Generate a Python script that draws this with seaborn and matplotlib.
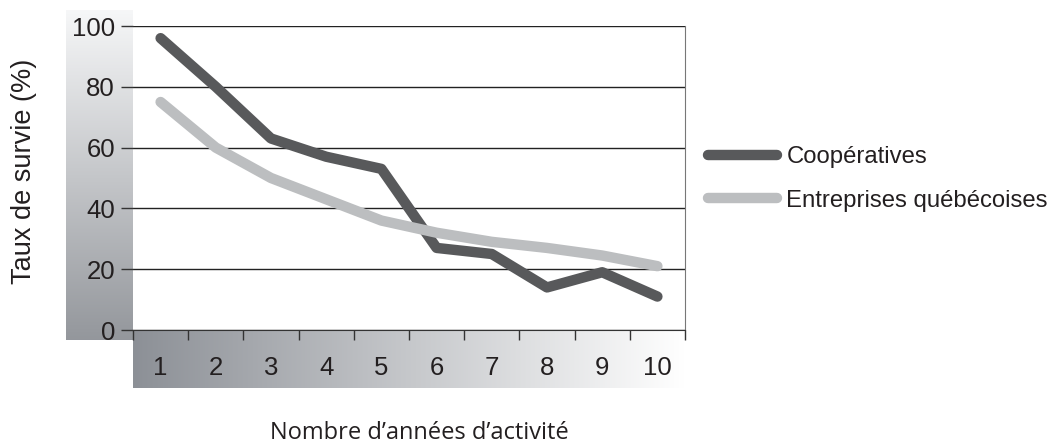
import numpy as np
import pandas as pd
import matplotlib.pyplot as plt
import seaborn as sns
from matplotlib.ticker import FixedLocator, NullFormatter
from matplotlib.lines import Line2D

annees = [1, 2, 3, 4, 5, 6, 7, 8, 9, 10]
cooperatives = [96, 80, 63, 57, 53, 27, 25, 14, 19, 11]
entreprises = [75, 60, 50, 43, 36, 32, 29, 27, 24.5, 21]
y_ticks = [0, 20, 40, 60, 80, 100]

df = pd.DataFrame({
    'Année': annees * 2,
    'Taux': cooperatives + entreprises,
    'Série': ['Coopératives'] * 10 + ['Entreprises québécoises'] * 10,
})

sns.set_style('white')
plt.rcParams['font.family'] = ['Liberation Sans', 'DejaVu Sans']

W, H = 1060, 445
fig = plt.figure(figsize=(W / 100, H / 100), dpi=100)

# background gradients (pixel coords)
bg = fig.add_axes([0, 0, 1, 1], zorder=0)
bg.set_xlim(0, W)
bg.set_ylim(H, 0)
bg.axis('off')

top_c = np.array([0.965, 0.968, 0.972])
bot_c = np.array([0.58, 0.592, 0.612])
t = np.linspace(0, 1, 200)[:, None]
vgrad = top_c + (bot_c - top_c) * t
vgrad = np.repeat(vgrad[:, None, :], 2, axis=1)
bg.imshow(vgrad, extent=(66, 133, 340, 10), aspect='auto', interpolation='bilinear')

left_c = np.array([0.55, 0.565, 0.59])
right_c = np.array([1.0, 1.0, 1.0])
s = np.linspace(0, 1, 300)[:, None]
hgrad = left_c + (right_c - left_c) * s
hgrad = np.repeat(hgrad[None, :, :], 2, axis=0)
bg.imshow(hgrad, extent=(133, 685, 388, 330), aspect='auto', interpolation='bilinear')

# main plot area
ax = fig.add_axes([133 / W, (H - 330) / H, 552 / W, 304 / H], zorder=1)
ax.set_facecolor('white')
sns.lineplot(data=df, x='Année', y='Taux', hue='Série',
             palette=['#58595b', '#bcbec0'], linewidth=7.5, ax=ax,
             legend=False, solid_capstyle='round', zorder=3)

ax.set_xlim(0.5, 10.5)
ax.set_ylim(0, 100)
ax.set_yticks(y_ticks)
ax.xaxis.set_major_locator(FixedLocator(np.arange(0.5, 11, 1)))
ax.xaxis.set_major_formatter(NullFormatter())
ax.xaxis.set_minor_locator(FixedLocator(annees))
ax.set_xticklabels([str(a) for a in annees], minor=True)
ax.tick_params(axis='x', which='major', direction='out', length=7, width=1, color='#333333', bottom=True)
ax.tick_params(axis='x', which='minor', length=0, pad=19, labelsize=18.5, labelcolor='#231f20')
ax.tick_params(axis='y', direction='out', length=9, width=1, color='#333333', left=True,
               labelsize=18.5, labelcolor='#231f20', pad=4)
ax.yaxis.grid(True, color='#222222', linewidth=1)
ax.set_axisbelow(True)
for side in ['top', 'left']:
    ax.spines[side].set_visible(False)
ax.spines['bottom'].set_color('#333333')
ax.spines['right'].set_color('#777777')
ax.set_xlabel('')
ax.set_ylabel('')

fig.text(24 / W, 1 - 171 / H, 'Taux de survie (%)', rotation=90, ha='center', va='center',
         fontsize=19.5, color='#231f20')
fig.text(419 / W, 1 - 433 / H, 'Nombre d\u2019années d\u2019activité', ha='center', va='center',
         fontsize=17, color='#231f20', family=['Open Sans', 'DejaVu Sans'])

handles = [Line2D([], [], color='#58595b', linewidth=7.5, solid_capstyle='round'),
           Line2D([], [], color='#bcbec0', linewidth=7.5, solid_capstyle='round')]
fig.legend(handles, ['Coopératives', 'Entreprises québécoises'], loc='center left',
           bbox_to_anchor=(686 / W, 1 - 179 / H), frameon=False, fontsize=17.2,
           handlelength=2.9, handletextpad=0.4, labelspacing=0.9, labelcolor='#231f20')

fig.savefig('out.png', dpi=100)
